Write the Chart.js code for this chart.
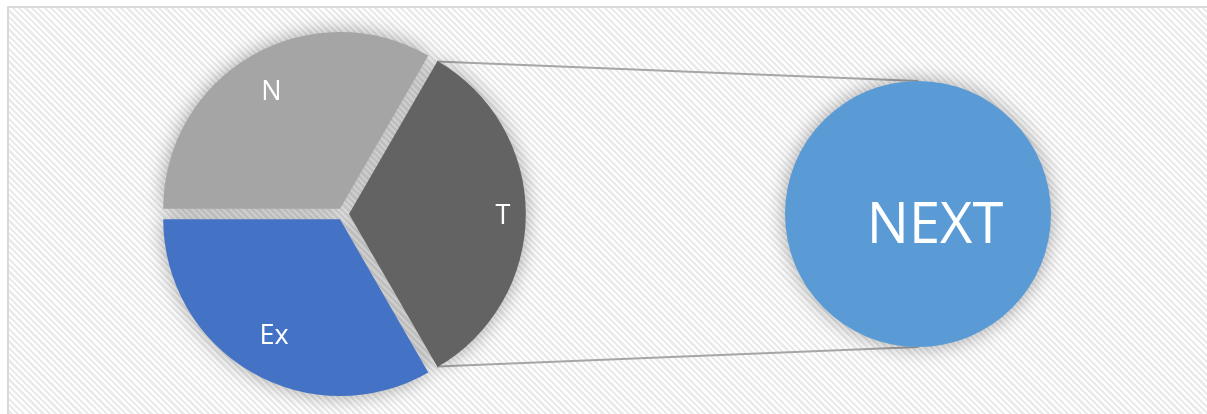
<!DOCTYPE html>
<html>
<head>
<meta charset="utf-8">
<script src="https://cdn.jsdelivr.net/npm/chart.js@4.4.1/dist/chart.umd.min.js"></script>
<style>
  html, body { margin: 0; padding: 0; background: #fff; width: 1207px; height: 414px; overflow: hidden; }
  #frame {
    position: absolute; left: 7px; top: 6px; width: 1230px; height: 440px;
    border: 2px solid #d9d9d9;
    background: repeating-linear-gradient(45deg, #ffffff 0px, #ffffff 2.2px, #ebebeb 2.2px, #ebebeb 4.5px);
  }
  canvas { position: absolute; }
  #lines { left: 0; top: 0; }
  #main { left: 133px; top: 9px; }
  #next { left: 748px; top: 44px; }
</style>
</head>
<body>
<div id="frame"></div>
<canvas id="lines" width="1207" height="414"></canvas>
<canvas id="main" width="420" height="410"></canvas>
<canvas id="next" width="340" height="340"></canvas>
<script>
// primary pie (T is the slice that is split out)
const categories = ['T', 'Ex', 'N'];
const values = [1, 1, 1];
const colors = ['#636363', '#4472C4', '#A5A5A5'];
// secondary pie
const subCategories = ['NEXT'];
const subValues = [1];
const subColors = ['#5B9BD5'];

// shadow pass: draw only the shadows of all slices first, shapes pushed out of view
const softShadow = {
  id: 'softShadow',
  beforeDatasetsDraw(chart, args, opts) {
    const ctx = chart.ctx;
    const dpr = chart.currentDevicePixelRatio || 1;
    chart.getDatasetMeta(0).data.forEach(arc => {
      ctx.save();
      ctx.shadowColor = opts.color;
      ctx.shadowBlur = opts.blur;
      ctx.shadowOffsetX = 5000 * dpr;
      ctx.translate(-5000, 0);
      arc.draw(ctx);
      ctx.restore();
    });
  }
};

const sliceLabels = {
  id: 'sliceLabels',
  afterDatasetsDraw(chart, args, opts) {
    const ctx = chart.ctx;
    const meta = chart.getDatasetMeta(0);
    ctx.save();
    ctx.fillStyle = opts.color;
    ctx.font = opts.font;
    ctx.textAlign = 'center';
    ctx.textBaseline = 'alphabetic';
    meta.data.forEach((arc, i) => {
      const text = chart.data.labels[i];
      const mid = (arc.startAngle + arc.endAngle) / 2;
      const shift = (arc.options.offset || 0) / 4;
      const d = arc.outerRadius * opts.distance[i] + shift;
      const m = ctx.measureText(text);
      const x = arc.x + Math.cos(mid) * d + (opts.dx || 0);
      const y = arc.y + Math.sin(mid) * d + (opts.dy || 0);
      ctx.fillText(text, x, y + (m.actualBoundingBoxAscent - m.actualBoundingBoxDescent) / 2);
    });
    ctx.restore();
  }
};

const baseOptions = {
  responsive: false,
  animation: false,
  events: [],
  layout: { padding: 0 },
  plugins: { legend: { display: false }, tooltip: { enabled: false } }
};

const mainChart = new Chart(document.getElementById('main'), {
  type: 'pie',
  data: {
    labels: categories,
    datasets: [{
      data: values,
      backgroundColor: colors,
      borderWidth: 0,
      offset: 24,
      radius: 176
    }]
  },
  options: {
    ...baseOptions,
    rotation: 30,
    plugins: {
      ...baseOptions.plugins,
      softShadow: { color: 'rgba(0,0,0,0.35)', blur: 20 },
      sliceLabels: { color: '#ffffff', font: '27px "Open Sans"', distance: [0.875, 0.75, 0.78] }
    }
  },
  plugins: [softShadow, sliceLabels]
});

const nextChart = new Chart(document.getElementById('next'), {
  type: 'pie',
  data: {
    labels: subCategories,
    datasets: [{
      data: subValues,
      backgroundColor: subColors,
      borderWidth: 0,
      radius: 133
    }]
  },
  options: {
    ...baseOptions,
    plugins: {
      ...baseOptions.plugins,
      softShadow: { color: 'rgba(0,0,0,0.35)', blur: 20 },
      sliceLabels: { color: '#ffffff', font: '56px "Open Sans"', distance: [0], dx: 17, dy: 8 }
    }
  },
  plugins: [softShadow, sliceLabels]
});

// connector lines from the split slice to the secondary pie
function drawConnectors() {
  const ctx = document.getElementById('lines').getContext('2d');
  const a = mainChart.getDatasetMeta(0).data[0];
  const shift = (a.options.offset || 0) / 4;
  const mb = mainChart.canvas.getBoundingClientRect();
  const mid = (a.startAngle + a.endAngle) / 2;
  const cx = mb.left + a.x + Math.cos(mid) * shift;
  const cy = mb.top + a.y + Math.sin(mid) * shift;
  const b = nextChart.getDatasetMeta(0).data[0];
  const nb = nextChart.canvas.getBoundingClientRect();
  const bx = nb.left + b.x, by = nb.top + b.y;
  ctx.strokeStyle = '#a6a6a6';
  ctx.lineWidth = 2;
  ctx.beginPath();
  ctx.moveTo(cx + a.outerRadius * Math.cos(a.startAngle), cy + a.outerRadius * Math.sin(a.startAngle));
  ctx.lineTo(bx, by - b.outerRadius);
  ctx.moveTo(cx + a.outerRadius * Math.cos(a.endAngle), cy + a.outerRadius * Math.sin(a.endAngle));
  ctx.lineTo(bx, by + b.outerRadius);
  ctx.stroke();
}
drawConnectors();
</script>
</body>
</html>
